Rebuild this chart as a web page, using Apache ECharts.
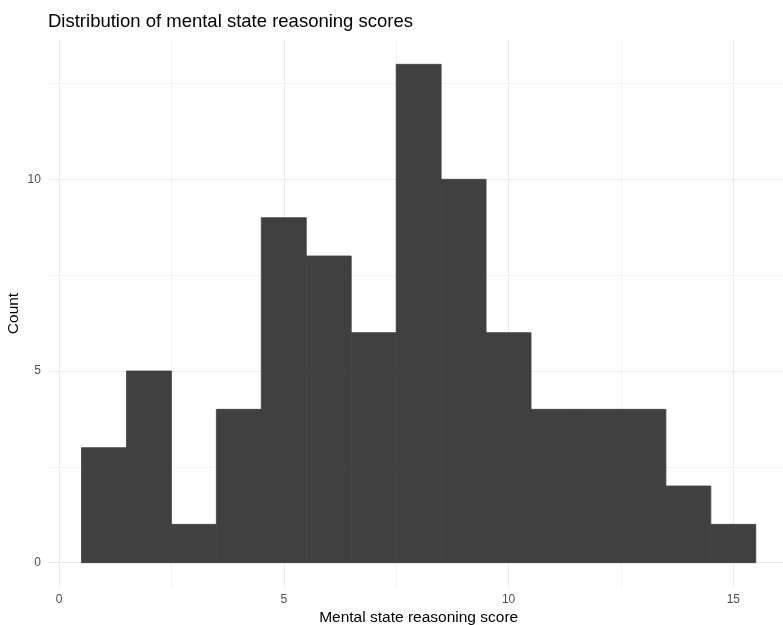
<!DOCTYPE html>
<html>
<head>
<meta charset="utf-8">
<script src="https://cdn.jsdelivr.net/npm/echarts@6/dist/echarts.min.js"></script>
<style>html,body{margin:0;padding:0;background:#fff;}#chart{width:783px;height:625px;}</style>
</head>
<body>
<div id="chart"></div>
<script>
// Histogram bins (centres) and counts
const binCentres = [1, 2, 3, 4, 5, 6, 7, 8, 9, 10, 11, 12, 13, 14, 15];
const counts     = [3, 5, 1, 4, 9, 8, 6, 13, 10, 6, 4, 4, 4, 2, 1];
const binWidth = 1;
// Tick labels and gridlines
const xTicks = [0, 5, 10, 15];
const yTicks = [0, 5, 10];
const xMinorGrid = [2.5, 7.5, 12.5];
const yMinorGrid = [2.5, 7.5, 12.5];

const FONT = '"Liberation Sans", Arial, Helvetica, sans-serif';
const gridColor = '#ebebeb';
const data = binCentres.map((c, i) => [c, counts[i]]);
const gridLines = [];
xTicks.forEach(v => gridLines.push({ xAxis: v, lineStyle: { width: 1.1 } }));
xMinorGrid.forEach(v => gridLines.push({ xAxis: v, lineStyle: { width: 0.6 } }));
yTicks.forEach(v => gridLines.push({ yAxis: v, lineStyle: { width: 1.1 } }));
yMinorGrid.forEach(v => gridLines.push({ yAxis: v, lineStyle: { width: 0.6 } }));

const chart = echarts.init(document.getElementById('chart'), null, { renderer: 'canvas' });
chart.setOption({
  backgroundColor: '#ffffff', animation: false,
  title: { text: 'Distribution of mental state reasoning scores', left: 48, top: 12, padding: 0,
    textStyle: { fontFamily: FONT, fontSize: 18.5, fontWeight: 'normal', color: '#000' } },
  grid: { left: 47.8, right: -6.5, top: 39.4, bottom: 37.4, containLabel: false, outerBoundsMode: 'none' },
  xAxis: { type: 'value', min: -0.25, max: 16.25, name: 'Mental state reasoning score', nameLocation: 'middle', nameGap: 22.5,
    nameMoveOverlap: false,
    nameTextStyle: { fontFamily: FONT, fontSize: 15.5, color: '#000', verticalAlign: 'top' },
    axisLine: { show: false }, axisTick: { show: false }, splitLine: { show: false },
    axisLabel: { customValues: xTicks, fontFamily: FONT, fontSize: 12, color: '#4d4d4d', margin: 6 } },
  yAxis: { type: 'value', min: -0.65, max: 13.65, name: 'Count', nameLocation: 'middle', nameGap: 26, nameRotate: 90,
    nameMoveOverlap: false,
    nameTextStyle: { fontFamily: FONT, fontSize: 15.5, color: '#000' },
    axisLine: { show: false }, axisTick: { show: false }, splitLine: { show: false },
    axisLabel: { customValues: yTicks, fontFamily: FONT, fontSize: 12, color: '#4d4d4d', margin: 7 } },
  series: [{ type: 'custom', z: 2, data: data, encode: { x: 0, y: 1 },
    renderItem: function (params, api) {
      const x = api.value(0), c = api.value(1);
      const p0 = api.coord([x - binWidth / 2, 0]);
      const p1 = api.coord([x + binWidth / 2, c]);
      return { type: 'rect', shape: { x: p0[0], y: p1[1], width: p1[0] - p0[0], height: p0[1] - p1[1] },
        style: { fill: '#404040', stroke: '#404040', lineWidth: 0.8 } };
    },
    markLine: { z: 1, silent: true, symbol: 'none', animation: false, label: { show: false },
      lineStyle: { color: gridColor, type: 'solid' }, emphasis: { disabled: true }, data: gridLines } }]
});
</script>
</body>
</html>
